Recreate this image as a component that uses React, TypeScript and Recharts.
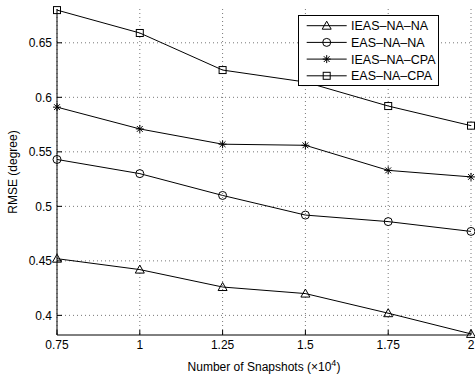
import React from "react";
import { LineChart, Line, XAxis, YAxis, CartesianGrid } from "recharts";

const snapshots = [0.75, 1, 1.25, 1.5, 1.75, 2];
const ieasNaNa = [0.452, 0.442, 0.426, 0.42, 0.402, 0.383];
const easNaNa = [0.543, 0.53, 0.51, 0.492, 0.486, 0.477];
const ieasNaCpa = [0.591, 0.571, 0.557, 0.556, 0.533, 0.527];
const easNaCpa = [0.68, 0.659, 0.625, 0.614, 0.592, 0.574];

const xTicks = [0.75, 1, 1.25, 1.5, 1.75, 2];
const yTicks = [0.4, 0.45, 0.5, 0.55, 0.6, 0.65];
const xTickLabels = ["0.75", "1", "1.25", "1.5", "1.75", "2"];
const yTickLabels = ["0.4", "0.45", "0.5", "0.55", "0.6", "0.65"];

const series = [
  { key: "ieasNaNa", name: "IEAS–NA–NA", marker: "triangle", values: ieasNaNa },
  { key: "easNaNa", name: "EAS–NA–NA", marker: "circle", values: easNaNa },
  { key: "ieasNaCpa", name: "IEAS–NA–CPA", marker: "star", values: ieasNaCpa },
  { key: "easNaCpa", name: "EAS–NA–CPA", marker: "square", values: easNaCpa },
];

const data = snapshots.map((x, i) => {
  const row: Record<string, number> = { x };
  series.forEach((s) => (row[s.key] = s.values[i]));
  return row;
});

const FONT = "'Liberation Sans', Arial, Helvetica, sans-serif";
const TICK_IN = 5;

function Marker({ type, cx, cy }: { type: string; cx: number; cy: number }) {
  const st = { fill: "none", stroke: "#000", strokeWidth: 1 };
  if (type === "triangle") {
    return (
      <polygon
        points={`${cx},${cy - 4.5} ${cx - 4.5},${cy + 3.5} ${cx + 4.5},${cy + 3.5}`}
        {...st}
      />
    );
  }
  if (type === "circle") return <circle cx={cx} cy={cy} r={4} {...st} />;
  if (type === "square") return <rect x={cx - 3.5} y={cy - 3.5} width={7} height={7} {...st} />;
  // star: MATLAB style asterisk
  const r = 4;
  const d = 2.9;
  return (
    <g {...st}>
      <line x1={cx - r} y1={cy} x2={cx + r} y2={cy} />
      <line x1={cx} y1={cy - r} x2={cx} y2={cy + r} />
      <line x1={cx - d} y1={cy - d} x2={cx + d} y2={cy + d} />
      <line x1={cx - d} y1={cy + d} x2={cx + d} y2={cy - d} />
    </g>
  );
}

// eslint-disable-next-line @typescript-eslint/no-explicit-any
const LeftTick = (props: any) => {
  const { x, y, index } = props;
  return (
    <g>
      <line x1={x + 5} y1={y} x2={x + 5 + TICK_IN} y2={y} stroke="#000" />
      <text x={x} y={y + 4.3} textAnchor="end" fontSize={12} fontFamily={FONT} fill="#000">
        {yTickLabels[index]}
      </text>
    </g>
  );
};

// eslint-disable-next-line @typescript-eslint/no-explicit-any
const BottomTick = (props: any) => {
  const { x, y, index } = props;
  return (
    <g>
      <line x1={x} y1={y - 5} x2={x} y2={y - 5 - TICK_IN} stroke="#000" />
      <text x={x} y={y + 9.3} textAnchor="middle" fontSize={12} fontFamily={FONT} fill="#000">
        {xTickLabels[index]}
      </text>
    </g>
  );
};

// eslint-disable-next-line @typescript-eslint/no-explicit-any
const RightTick = (props: any) => {
  const { x, y } = props;
  return <line x1={x - 5} y1={y} x2={x - 5 - TICK_IN} y2={y} stroke="#000" />;
};

// eslint-disable-next-line @typescript-eslint/no-explicit-any
const TopTick = (props: any) => {
  const { x, y } = props;
  return <line x1={x} y1={y + 5} x2={x} y2={y + 5 + TICK_IN} stroke="#000" />;
};

function Legend() {
  return (
    <svg
      width={141}
      height={71}
      style={{ position: "absolute", left: 298, top: 15 }}
    >
      <rect x={0.5} y={0.5} width={140} height={70} fill="#fff" stroke="#000" />
      {series.map((s, i) => {
        const cy = 10.7 + i * 16.7;
        return (
          <g key={s.key}>
            <line x1={8.7} y1={cy} x2={48.7} y2={cy} stroke="#000" />
            <Marker type={s.marker} cx={28.7} cy={cy} />
            <text x={53} y={cy + 4.5} fontSize={12.5} fontFamily={FONT} fill="#000">
              {s.name}
            </text>
          </g>
        );
      })}
    </svg>
  );
}

export default function App() {
  return (
    <div
      style={{
        position: "absolute",
        left: 0,
        top: 0,
        width: 475,
        height: 377,
        background: "#fff",
      }}
    >
      <LineChart
        width={475}
        height={377}
        data={data}
        margin={{ top: 9, right: 4, bottom: 0, left: 0 }}
      >
        <CartesianGrid
          xAxisId="b"
          yAxisId="l"
          stroke="#777"
          strokeDasharray="1 3"
          horizontalValues={yTicks}
          verticalValues={xTicks}
        />
        <XAxis
          xAxisId="b"
          dataKey="x"
          type="number"
          domain={[0.75, 2]}
          ticks={xTicks}
          interval={0}
          height={42}
          tickSize={0}
          tickMargin={5}
          tickLine={false}
          axisLine={{ stroke: "#000" }}
          tick={<BottomTick />}
          label={{
            // eslint-disable-next-line @typescript-eslint/no-explicit-any
            content: (p: any) => {
              const vb = p.viewBox;
              return (
                <text
                  x={vb.x + vb.width / 2}
                  y={vb.y + 36}
                  textAnchor="middle"
                  fontSize={12}
                  fontFamily={FONT}
                  fill="#000"
                >
                  Number of Snapshots (×10
                  <tspan dy={-5} fontSize={9}>4</tspan>
                  <tspan dy={5}>)</tspan>
                </text>
              );
            },
          }}
        />
        <XAxis
          xAxisId="t"
          dataKey="x"
          type="number"
          orientation="top"
          domain={[0.75, 2]}
          ticks={xTicks}
          interval={0}
          height={0}
          tickSize={0}
          tickMargin={5}
          tickLine={false}
          axisLine={{ stroke: "#000" }}
          tick={<TopTick />}
        />
        <YAxis
          yAxisId="l"
          type="number"
          domain={[0.382, 0.681]}
          ticks={yTicks}
          interval={0}
          width={57}
          tickSize={0}
          tickMargin={5}
          tickLine={false}
          axisLine={{ stroke: "#000" }}
          tick={<LeftTick />}
          label={{
            // eslint-disable-next-line @typescript-eslint/no-explicit-any
            content: (p: any) => {
              const vb = p.viewBox;
              const cx = vb.x + 14;
              const cy = vb.y + vb.height / 2;
              return (
                <text
                  x={cx}
                  y={cy}
                  transform={`rotate(-90 ${cx} ${cy})`}
                  textAnchor="middle"
                  dominantBaseline="middle"
                  fontSize={12}
                  fontFamily={FONT}
                  fill="#000"
                >
                  RMSE (degree)
                </text>
              );
            },
          }}
        />
        <YAxis
          yAxisId="r"
          orientation="right"
          type="number"
          domain={[0.382, 0.681]}
          ticks={yTicks}
          interval={0}
          width={0}
          tickSize={0}
          tickMargin={5}
          tickLine={false}
          axisLine={{ stroke: "#000" }}
          tick={<RightTick />}
        />
        {series.map((s) => (
          <Line
            key={s.key}
            xAxisId="b"
            yAxisId="l"
            dataKey={s.key}
            name={s.name}
            stroke="#000"
            strokeWidth={1}
            isAnimationActive={false}
            // eslint-disable-next-line @typescript-eslint/no-explicit-any
            dot={(p: any) => (
              <Marker key={`${s.key}-${p.index}`} type={s.marker} cx={p.cx} cy={p.cy} />
            )}
            activeDot={false}
          />
        ))}
      </LineChart>
      <Legend />
    </div>
  );
}
